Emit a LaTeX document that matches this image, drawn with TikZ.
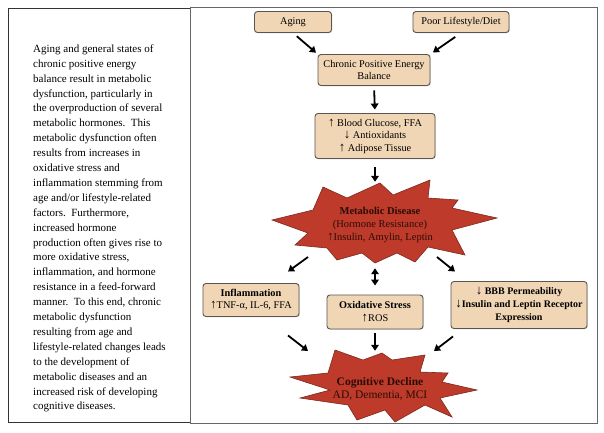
\documentclass[tikz,border=0pt]{standalone}
\usepackage{fontspec}
\setmainfont{Liberation Serif}
\usetikzlibrary{arrows.meta,shadows}
\definecolor{boxtan}{HTML}{F0D6B4}
\definecolor{boxline}{HTML}{5A5550}
\definecolor{starred}{HTML}{BE3A2A}
\definecolor{starline}{HTML}{7A2A20}
\definecolor{startext}{HTML}{2A0C06}
\newcommand\uparr{{\fontsize{13}{12}\selectfont\bfseries ↑}}
\newcommand\dnarr{{\fontsize{13}{12}\selectfont\bfseries ↓}}
\tikzset{>/.tip={Triangle[width=7.5pt,length=6pt]},
  factor/.style={draw=boxline, fill=boxtan, rounded corners=3pt, line width=0.9pt,
    align=center, inner sep=1pt, font=\fontsize{10.3}{12}\selectfont,
    drop shadow={opacity=0.25,shadow xshift=0.8pt,shadow yshift=-0.8pt}},
  burst/.style={draw=starline, fill=starred, line width=0.6pt},
  bursttext/.style={align=center, inner sep=0pt, text=startext},
  arr/.style={->, line width=1.8pt},
  dblarr/.style={<->, line width=1.8pt}}

\begin{document}
\begin{tikzpicture}[x=1pt,y=-1pt]
\useasboundingbox (0,0) rectangle (604,432);
\fill[white] (0,0) rectangle (604,432);
\draw[line width=1pt, draw=black!80] (8,8) rectangle (190,422);
\draw[line width=1pt, draw=black!60] (190,7) rectangle (597,423);

\node[anchor=west, align=left, inner sep=0pt, font=\fontsize{11}{14.9}\selectfont] (summary) at (33,228.5)
  {Aging and general states of\\
   chronic positive energy\\
   balance result in metabolic\\
   dysfunction, particularly in\\
   the overproduction of several\\
   metabolic hormones.\ \ This\\
   metabolic dysfunction often\\
   results from increases in\\
   oxidative stress and\\
   inflammation stemming from\\
   age and/or lifestyle-related\\
   factors.\ \ Furthermore,\\
   increased hormone\\
   production often gives rise to\\
   more oxidative stress,\\
   inflammation, and hormone\\
   resistance in a feed-forward\\
   manner.\ \ To this end, chronic\\
   metabolic dysfunction\\
   resulting from age and\\
   lifestyle-related changes leads\\
   to the development of\\
   metabolic diseases and an\\
   increased risk of developing\\
   cognitive diseases.};

\node[factor, minimum width=77pt, minimum height=21pt] (aging) at (293,22) {Aging};
\node[factor, minimum width=96pt, minimum height=21pt] (poor) at (461,22) {Poor Lifestyle/Diet};
\node[factor, minimum width=112pt, minimum height=31pt] (chronic) at (374,70) {Chronic Positive Energy\\Balance};
\node[factor, minimum width=120pt, minimum height=45pt, font=\fontsize{10.3}{12.5}\selectfont] (blood) at (375,136)
  {\uparr\ Blood Glucose, FFA\\\dnarr\ Antioxidants\\\uparr\ Adipose Tissue};

% metabolic disease burst
\draw[burst] (272,220) -- (313,210) -- (323,187) -- (347,198) -- (380,183) -- (393,195)
  -- (430,180) -- (428,198) -- (458,200) -- (452,208) -- (497,218) -- (452,230)
  -- (465,255) -- (428,247) -- (415,262) -- (397,253) -- (375,263) -- (362,253)
  -- (337,260) -- (327,248) -- (295,245) -- (308,233) -- cycle;
\node[bursttext, minimum width=225pt, minimum height=82pt, font=\fontsize{10.5}{13}\selectfont] (metab) at (380,225)
  {\textbf{Metabolic Disease}\\(Hormone Resistance)\\\uparr Insulin, Amylin, Leptin};

\node[factor, minimum width=96pt, minimum height=33pt] (inflam) at (251,300)
  {\textbf{Inflammation}\\\uparr TNF-α, IL-6, FFA};
\node[factor, minimum width=96pt, minimum height=34pt, font=\fontsize{10.3}{13}\selectfont] (oxid) at (375,312)
  {\textbf{Oxidative Stress}\\\uparr ROS};
\node[factor, minimum width=136pt, minimum height=47pt, font=\bfseries\fontsize{10}{13}\selectfont] (bbb) at (519,305)
  {\dnarr\ BBB Permeability\\\dnarr Insulin and Leptin Receptor\\Expression};

% cognitive decline burst
\draw[burst] (335,350) -- (363,360) -- (382,353) -- (392,360) -- (425,355) -- (420,372)
  -- (448,373) -- (442,382) -- (477,390) -- (440,398) -- (452,417) -- (425,405)
  -- (395,422) -- (385,410) -- (357,420) -- (348,405) -- (300,398) -- (330,390)
  -- (290,377) -- (328,373) -- cycle;
\node[bursttext, minimum width=187pt, minimum height=76pt, font=\fontsize{11.5}{13}\selectfont] (cog) at (380,389)
  {\textbf{Cognitive Decline}\\AD, Dementia, MCI};

\draw[arr, shorten <=5pt, shorten >=2pt] (aging.south) -- (chronic.north west);
\draw[arr, shorten <=7pt, shorten >=3pt] (poor.south) -- (chronic.north east);
\draw[arr, shorten <=4.5pt, shorten >=3.5pt] (chronic.south) -- (blood.north);
\draw[arr, shorten <=8.5pt, shorten >=2pt] (blood.south) -- (blood.south |- metab.north);
\draw[arr] ([xshift=-72pt,yshift=-32pt]metab.center) -- ([xshift=37pt,yshift=11.5pt]inflam.north);
\draw[arr] ([xshift=57pt,yshift=-32pt]metab.center) -- ([xshift=-64pt,yshift=9.5pt]bbb.north);
\draw[dblarr, shorten <=2pt, shorten >=9pt] (oxid.north |- metab.south) -- (oxid.north);
\draw[arr] ([xshift=37pt,yshift=-18.5pt]inflam.south) -- ([xshift=-72pt,yshift=38pt]cog.center);
\draw[arr, shorten <=4pt] (oxid.south) -- (oxid.south |- cog.north);
\draw[arr] ([xshift=-66pt,yshift=-7.5pt]bbb.south) -- ([xshift=54pt,yshift=38pt]cog.center);
\end{tikzpicture}
\end{document}
